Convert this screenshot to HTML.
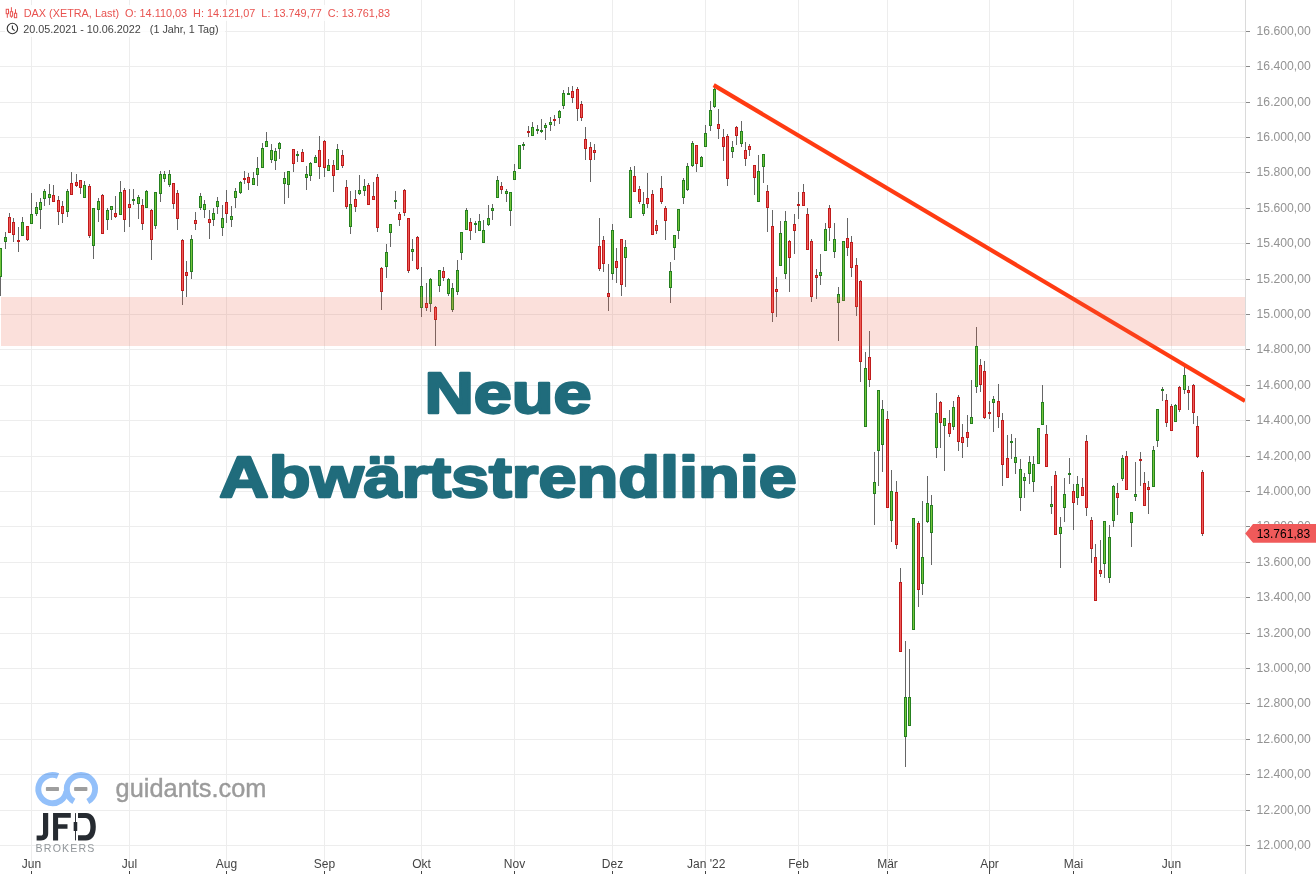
<!DOCTYPE html>
<html lang="de"><head><meta charset="utf-8"><title>DAX Chart</title>
<style>html,body{margin:0;padding:0;background:#fff;width:1316px;height:874px;overflow:hidden}svg{display:block}</style>
</head><body>
<svg id="chart" style="will-change:transform" width="1316" height="874" viewBox="0 0 1316 874" shape-rendering="crispEdges"><rect width="1316" height="874" fill="#fff"/><g id="grid"><rect x="0" y="31" width="1245" height="1" fill="#ededed"/><rect x="0" y="66" width="1245" height="1" fill="#ededed"/><rect x="0" y="102" width="1245" height="1" fill="#ededed"/><rect x="0" y="137" width="1245" height="1" fill="#ededed"/><rect x="0" y="172" width="1245" height="1" fill="#ededed"/><rect x="0" y="208" width="1245" height="1" fill="#ededed"/><rect x="0" y="243" width="1245" height="1" fill="#ededed"/><rect x="0" y="279" width="1245" height="1" fill="#ededed"/><rect x="0" y="314" width="1245" height="1" fill="#ededed"/><rect x="0" y="349" width="1245" height="1" fill="#ededed"/><rect x="0" y="385" width="1245" height="1" fill="#ededed"/><rect x="0" y="420" width="1245" height="1" fill="#ededed"/><rect x="0" y="456" width="1245" height="1" fill="#ededed"/><rect x="0" y="491" width="1245" height="1" fill="#ededed"/><rect x="0" y="526" width="1245" height="1" fill="#ededed"/><rect x="0" y="562" width="1245" height="1" fill="#ededed"/><rect x="0" y="597" width="1245" height="1" fill="#ededed"/><rect x="0" y="633" width="1245" height="1" fill="#ededed"/><rect x="0" y="668" width="1245" height="1" fill="#ededed"/><rect x="0" y="703" width="1245" height="1" fill="#ededed"/><rect x="0" y="739" width="1245" height="1" fill="#ededed"/><rect x="0" y="774" width="1245" height="1" fill="#ededed"/><rect x="0" y="810" width="1245" height="1" fill="#ededed"/><rect x="0" y="845" width="1245" height="1" fill="#ededed"/><rect x="31" y="0" width="1" height="870" fill="#ededed"/><rect x="129" y="0" width="1" height="870" fill="#ededed"/><rect x="226" y="0" width="1" height="870" fill="#ededed"/><rect x="324" y="0" width="1" height="870" fill="#ededed"/><rect x="421" y="0" width="1" height="870" fill="#ededed"/><rect x="514" y="0" width="1" height="870" fill="#ededed"/><rect x="612" y="0" width="1" height="870" fill="#ededed"/><rect x="705" y="0" width="1" height="870" fill="#ededed"/><rect x="798" y="0" width="1" height="870" fill="#ededed"/><rect x="887" y="0" width="1" height="870" fill="#ededed"/><rect x="989" y="0" width="1" height="870" fill="#ededed"/><rect x="1073" y="0" width="1" height="870" fill="#ededed"/><rect x="1171" y="0" width="1" height="870" fill="#ededed"/></g><g id="logo" shape-rendering="geometricPrecision" style="mix-blend-mode:multiply">
<path d="M66.46 791.07 A14.15 14.15 0 1 1 57.98 776.07" fill="none" stroke="#93c0fa" stroke-width="5.9"/>
<path d="M73.88 801.35 A14.15 14.15 0 1 1 87.81 801.48" fill="none" stroke="#93c0fa" stroke-width="5.9"/>
<rect x="45.9" y="786.9" width="13.1" height="4.1" rx="0.8" fill="#9e9e9e"/>
<rect x="74.1" y="786.9" width="13.3" height="4.1" rx="0.8" fill="#9e9e9e"/>
<text x="115.6" y="796.6" font-family="Liberation Sans, Arial, sans-serif" font-size="25.3" fill="#9b9b9b" stroke="#9b9b9b" stroke-width="0.4" textLength="150.8" lengthAdjust="spacingAndGlyphs">guidants.com</text>
</g><g id="jfd" shape-rendering="geometricPrecision" fill="#262b31">
<path d="M43 813.1 H48.2 V833.3 C48.2 837.9 45.4 840.4 41 840.4 H36.6 V835.5 H40.8 C42.4 835.5 43 834.8 43 833.2 Z"/>
<path d="M53.05 813.1 H70.8 V817.7 H58.1 V824.2 H67.5 V828.8 H58.1 V840.4 H53.05 Z"/>
<rect x="75" y="813.1" width="0.95" height="27.3"/>
<rect x="73.65" y="822.1" width="3.6" height="9" rx="0.5"/>
<path d="M78 813.1 H86 C92.5 813.1 95.8 818.6 95.8 826.75 C95.8 834.9 92.5 840.4 86 840.4 H78 V835.2 H85.5 C88.8 835.2 90.4 831.8 90.4 826.75 C90.4 821.7 88.8 817.9 85.5 817.9 H78 Z"/>
</g>
<text x="35.6" y="852.4" font-family="Liberation Sans, Arial, sans-serif" font-size="10.6" fill="#92979b" textLength="58.8" lengthAdjust="spacing">BROKERS</text><g id="candles"><rect x="0" y="248" width="1" height="48" fill="#666"/><rect x="-1" y="248" width="3" height="29" fill="#258020"/><rect x="0" y="249" width="1" height="27" fill="#72c63a"/><rect x="5" y="232" width="1" height="17" fill="#666"/><rect x="4" y="237" width="3" height="5" fill="#258020"/><rect x="5" y="238" width="1" height="3" fill="#72c63a"/><rect x="9" y="213" width="1" height="20" fill="#666"/><rect x="8" y="217" width="3" height="16" fill="#c01b1b"/><rect x="9" y="218" width="1" height="14" fill="#f05a5a"/><rect x="13" y="218" width="1" height="24" fill="#666"/><rect x="12" y="222" width="3" height="13" fill="#c01b1b"/><rect x="13" y="223" width="1" height="11" fill="#f05a5a"/><rect x="18" y="227" width="1" height="25" fill="#666"/><rect x="17" y="240" width="3" height="2" fill="#c01b1b"/><rect x="22" y="217" width="1" height="19" fill="#666"/><rect x="21" y="222" width="3" height="14" fill="#258020"/><rect x="22" y="223" width="1" height="12" fill="#72c63a"/><rect x="27" y="226" width="1" height="15" fill="#666"/><rect x="26" y="226" width="3" height="14" fill="#c01b1b"/><rect x="27" y="227" width="1" height="12" fill="#f05a5a"/><rect x="31" y="193" width="1" height="31" fill="#666"/><rect x="30" y="214" width="3" height="10" fill="#258020"/><rect x="31" y="215" width="1" height="8" fill="#72c63a"/><rect x="36" y="202" width="1" height="14" fill="#666"/><rect x="35" y="207" width="3" height="7" fill="#258020"/><rect x="36" y="208" width="1" height="5" fill="#72c63a"/><rect x="40" y="198" width="1" height="31" fill="#666"/><rect x="39" y="202" width="3" height="8" fill="#258020"/><rect x="40" y="203" width="1" height="6" fill="#72c63a"/><rect x="44" y="189" width="1" height="17" fill="#666"/><rect x="43" y="191" width="3" height="8" fill="#258020"/><rect x="44" y="192" width="1" height="6" fill="#72c63a"/><rect x="49" y="184" width="1" height="21" fill="#666"/><rect x="48" y="194" width="3" height="4" fill="#258020"/><rect x="49" y="195" width="1" height="2" fill="#72c63a"/><rect x="53" y="185" width="1" height="17" fill="#666"/><rect x="52" y="195" width="3" height="7" fill="#c01b1b"/><rect x="53" y="196" width="1" height="5" fill="#f05a5a"/><rect x="58" y="196" width="1" height="29" fill="#666"/><rect x="57" y="200" width="3" height="12" fill="#c01b1b"/><rect x="58" y="201" width="1" height="10" fill="#f05a5a"/><rect x="62" y="201" width="1" height="22" fill="#666"/><rect x="61" y="206" width="3" height="8" fill="#c01b1b"/><rect x="62" y="207" width="1" height="6" fill="#f05a5a"/><rect x="67" y="189" width="1" height="28" fill="#666"/><rect x="66" y="191" width="3" height="21" fill="#258020"/><rect x="67" y="192" width="1" height="19" fill="#72c63a"/><rect x="71" y="172" width="1" height="23" fill="#666"/><rect x="70" y="183" width="3" height="12" fill="#c01b1b"/><rect x="71" y="184" width="1" height="10" fill="#f05a5a"/><rect x="76" y="174" width="1" height="13" fill="#666"/><rect x="75" y="182" width="3" height="4" fill="#c01b1b"/><rect x="76" y="183" width="1" height="2" fill="#f05a5a"/><rect x="80" y="180" width="1" height="14" fill="#666"/><rect x="79" y="180" width="3" height="8" fill="#c01b1b"/><rect x="80" y="181" width="1" height="6" fill="#f05a5a"/><rect x="84" y="181" width="1" height="17" fill="#666"/><rect x="83" y="185" width="3" height="13" fill="#258020"/><rect x="84" y="186" width="1" height="11" fill="#72c63a"/><rect x="89" y="184" width="1" height="54" fill="#666"/><rect x="88" y="186" width="3" height="50" fill="#c01b1b"/><rect x="89" y="187" width="1" height="48" fill="#f05a5a"/><rect x="93" y="208" width="1" height="51" fill="#666"/><rect x="92" y="208" width="3" height="38" fill="#258020"/><rect x="93" y="209" width="1" height="36" fill="#72c63a"/><rect x="98" y="198" width="1" height="24" fill="#666"/><rect x="97" y="201" width="3" height="9" fill="#258020"/><rect x="98" y="202" width="1" height="7" fill="#72c63a"/><rect x="102" y="194" width="1" height="40" fill="#666"/><rect x="101" y="195" width="3" height="39" fill="#c01b1b"/><rect x="102" y="196" width="1" height="37" fill="#f05a5a"/><rect x="107" y="208" width="1" height="22" fill="#666"/><rect x="106" y="210" width="3" height="10" fill="#258020"/><rect x="107" y="211" width="1" height="8" fill="#72c63a"/><rect x="111" y="206" width="1" height="14" fill="#666"/><rect x="110" y="206" width="3" height="4" fill="#258020"/><rect x="111" y="207" width="1" height="2" fill="#72c63a"/><rect x="115" y="196" width="1" height="22" fill="#666"/><rect x="114" y="213" width="3" height="4" fill="#c01b1b"/><rect x="115" y="214" width="1" height="2" fill="#f05a5a"/><rect x="120" y="181" width="1" height="34" fill="#666"/><rect x="119" y="192" width="3" height="23" fill="#258020"/><rect x="120" y="193" width="1" height="21" fill="#72c63a"/><rect x="124" y="188" width="1" height="44" fill="#666"/><rect x="123" y="190" width="3" height="30" fill="#c01b1b"/><rect x="124" y="191" width="1" height="28" fill="#f05a5a"/><rect x="129" y="189" width="1" height="38" fill="#666"/><rect x="128" y="204" width="3" height="4" fill="#c01b1b"/><rect x="129" y="205" width="1" height="2" fill="#f05a5a"/><rect x="133" y="189" width="1" height="16" fill="#666"/><rect x="132" y="199" width="3" height="2" fill="#258020"/><rect x="138" y="195" width="1" height="24" fill="#666"/><rect x="137" y="197" width="3" height="7" fill="#258020"/><rect x="138" y="198" width="1" height="5" fill="#72c63a"/><rect x="142" y="199" width="1" height="31" fill="#666"/><rect x="141" y="205" width="3" height="19" fill="#c01b1b"/><rect x="142" y="206" width="1" height="17" fill="#f05a5a"/><rect x="146" y="190" width="1" height="18" fill="#666"/><rect x="145" y="191" width="3" height="17" fill="#258020"/><rect x="146" y="192" width="1" height="15" fill="#72c63a"/><rect x="151" y="209" width="1" height="51" fill="#666"/><rect x="150" y="210" width="3" height="30" fill="#c01b1b"/><rect x="151" y="211" width="1" height="28" fill="#f05a5a"/><rect x="155" y="192" width="1" height="37" fill="#666"/><rect x="154" y="192" width="3" height="34" fill="#258020"/><rect x="155" y="193" width="1" height="32" fill="#72c63a"/><rect x="160" y="171" width="1" height="31" fill="#666"/><rect x="159" y="174" width="3" height="20" fill="#258020"/><rect x="160" y="175" width="1" height="18" fill="#72c63a"/><rect x="164" y="171" width="1" height="11" fill="#666"/><rect x="163" y="174" width="3" height="5" fill="#258020"/><rect x="164" y="175" width="1" height="3" fill="#72c63a"/><rect x="169" y="170" width="1" height="17" fill="#666"/><rect x="168" y="174" width="3" height="11" fill="#258020"/><rect x="169" y="175" width="1" height="9" fill="#72c63a"/><rect x="173" y="183" width="1" height="26" fill="#666"/><rect x="172" y="183" width="3" height="21" fill="#c01b1b"/><rect x="173" y="184" width="1" height="19" fill="#f05a5a"/><rect x="177" y="190" width="1" height="40" fill="#666"/><rect x="176" y="193" width="3" height="26" fill="#c01b1b"/><rect x="177" y="194" width="1" height="24" fill="#f05a5a"/><rect x="182" y="239" width="1" height="66" fill="#666"/><rect x="181" y="240" width="3" height="51" fill="#c01b1b"/><rect x="182" y="241" width="1" height="49" fill="#f05a5a"/><rect x="186" y="261" width="1" height="36" fill="#666"/><rect x="185" y="272" width="3" height="4" fill="#c01b1b"/><rect x="186" y="273" width="1" height="2" fill="#f05a5a"/><rect x="191" y="235" width="1" height="44" fill="#666"/><rect x="190" y="239" width="3" height="33" fill="#258020"/><rect x="191" y="240" width="1" height="31" fill="#72c63a"/><rect x="195" y="212" width="1" height="18" fill="#666"/><rect x="194" y="220" width="3" height="4" fill="#c01b1b"/><rect x="195" y="221" width="1" height="2" fill="#f05a5a"/><rect x="200" y="193" width="1" height="17" fill="#666"/><rect x="199" y="196" width="3" height="12" fill="#258020"/><rect x="200" y="197" width="1" height="10" fill="#72c63a"/><rect x="204" y="200" width="1" height="18" fill="#666"/><rect x="203" y="204" width="3" height="6" fill="#258020"/><rect x="204" y="205" width="1" height="4" fill="#72c63a"/><rect x="209" y="210" width="1" height="29" fill="#666"/><rect x="208" y="219" width="3" height="4" fill="#c01b1b"/><rect x="209" y="220" width="1" height="2" fill="#f05a5a"/><rect x="213" y="208" width="1" height="18" fill="#666"/><rect x="212" y="213" width="3" height="7" fill="#258020"/><rect x="213" y="214" width="1" height="5" fill="#72c63a"/><rect x="217" y="197" width="1" height="17" fill="#666"/><rect x="216" y="201" width="3" height="6" fill="#258020"/><rect x="217" y="202" width="1" height="4" fill="#72c63a"/><rect x="222" y="205" width="1" height="31" fill="#666"/><rect x="221" y="218" width="3" height="10" fill="#258020"/><rect x="222" y="219" width="1" height="8" fill="#72c63a"/><rect x="226" y="190" width="1" height="33" fill="#666"/><rect x="225" y="202" width="3" height="12" fill="#c01b1b"/><rect x="226" y="203" width="1" height="10" fill="#f05a5a"/><rect x="231" y="206" width="1" height="21" fill="#666"/><rect x="230" y="216" width="3" height="4" fill="#258020"/><rect x="231" y="217" width="1" height="2" fill="#72c63a"/><rect x="235" y="188" width="1" height="20" fill="#666"/><rect x="234" y="191" width="3" height="7" fill="#258020"/><rect x="235" y="192" width="1" height="5" fill="#72c63a"/><rect x="240" y="181" width="1" height="13" fill="#666"/><rect x="239" y="182" width="3" height="11" fill="#258020"/><rect x="240" y="183" width="1" height="9" fill="#72c63a"/><rect x="244" y="171" width="1" height="13" fill="#666"/><rect x="243" y="178" width="3" height="2" fill="#c01b1b"/><rect x="248" y="173" width="1" height="17" fill="#666"/><rect x="247" y="177" width="3" height="6" fill="#c01b1b"/><rect x="248" y="178" width="1" height="4" fill="#f05a5a"/><rect x="253" y="172" width="1" height="13" fill="#666"/><rect x="252" y="178" width="3" height="7" fill="#258020"/><rect x="253" y="179" width="1" height="5" fill="#72c63a"/><rect x="257" y="157" width="1" height="29" fill="#666"/><rect x="256" y="168" width="3" height="7" fill="#258020"/><rect x="257" y="169" width="1" height="5" fill="#72c63a"/><rect x="262" y="143" width="1" height="25" fill="#666"/><rect x="261" y="148" width="3" height="20" fill="#258020"/><rect x="262" y="149" width="1" height="18" fill="#72c63a"/><rect x="266" y="132" width="1" height="15" fill="#666"/><rect x="265" y="141" width="3" height="6" fill="#258020"/><rect x="266" y="142" width="1" height="4" fill="#72c63a"/><rect x="271" y="144" width="1" height="19" fill="#666"/><rect x="270" y="150" width="3" height="10" fill="#258020"/><rect x="271" y="151" width="1" height="8" fill="#72c63a"/><rect x="275" y="148" width="1" height="22" fill="#666"/><rect x="274" y="151" width="3" height="10" fill="#258020"/><rect x="275" y="152" width="1" height="8" fill="#72c63a"/><rect x="279" y="142" width="1" height="17" fill="#666"/><rect x="278" y="143" width="3" height="6" fill="#258020"/><rect x="279" y="144" width="1" height="4" fill="#72c63a"/><rect x="284" y="172" width="1" height="32" fill="#666"/><rect x="283" y="178" width="3" height="6" fill="#258020"/><rect x="284" y="179" width="1" height="4" fill="#72c63a"/><rect x="288" y="171" width="1" height="27" fill="#666"/><rect x="287" y="171" width="3" height="14" fill="#258020"/><rect x="288" y="172" width="1" height="12" fill="#72c63a"/><rect x="293" y="149" width="1" height="23" fill="#666"/><rect x="292" y="149" width="3" height="15" fill="#c01b1b"/><rect x="293" y="150" width="1" height="13" fill="#f05a5a"/><rect x="297" y="151" width="1" height="11" fill="#666"/><rect x="296" y="154" width="3" height="2" fill="#258020"/><rect x="302" y="149" width="1" height="13" fill="#666"/><rect x="301" y="152" width="3" height="10" fill="#c01b1b"/><rect x="302" y="153" width="1" height="8" fill="#f05a5a"/><rect x="306" y="166" width="1" height="24" fill="#666"/><rect x="305" y="174" width="3" height="4" fill="#258020"/><rect x="306" y="175" width="1" height="2" fill="#72c63a"/><rect x="310" y="162" width="1" height="19" fill="#666"/><rect x="309" y="163" width="3" height="13" fill="#258020"/><rect x="310" y="164" width="1" height="11" fill="#72c63a"/><rect x="315" y="155" width="1" height="8" fill="#666"/><rect x="314" y="157" width="3" height="6" fill="#258020"/><rect x="315" y="158" width="1" height="4" fill="#72c63a"/><rect x="319" y="136" width="1" height="43" fill="#666"/><rect x="318" y="150" width="3" height="17" fill="#c01b1b"/><rect x="319" y="151" width="1" height="15" fill="#f05a5a"/><rect x="324" y="140" width="1" height="37" fill="#666"/><rect x="323" y="141" width="3" height="27" fill="#c01b1b"/><rect x="324" y="142" width="1" height="25" fill="#f05a5a"/><rect x="328" y="159" width="1" height="12" fill="#666"/><rect x="327" y="165" width="3" height="6" fill="#258020"/><rect x="328" y="166" width="1" height="4" fill="#72c63a"/><rect x="333" y="160" width="1" height="32" fill="#666"/><rect x="332" y="165" width="3" height="11" fill="#c01b1b"/><rect x="333" y="166" width="1" height="9" fill="#f05a5a"/><rect x="337" y="144" width="1" height="26" fill="#666"/><rect x="336" y="149" width="3" height="21" fill="#258020"/><rect x="337" y="150" width="1" height="19" fill="#72c63a"/><rect x="342" y="150" width="1" height="18" fill="#666"/><rect x="341" y="155" width="3" height="11" fill="#c01b1b"/><rect x="342" y="156" width="1" height="9" fill="#f05a5a"/><rect x="346" y="180" width="1" height="29" fill="#666"/><rect x="345" y="187" width="3" height="20" fill="#c01b1b"/><rect x="346" y="188" width="1" height="18" fill="#f05a5a"/><rect x="350" y="191" width="1" height="43" fill="#666"/><rect x="349" y="204" width="3" height="23" fill="#258020"/><rect x="350" y="205" width="1" height="21" fill="#72c63a"/><rect x="355" y="190" width="1" height="22" fill="#666"/><rect x="354" y="199" width="3" height="8" fill="#c01b1b"/><rect x="355" y="200" width="1" height="6" fill="#f05a5a"/><rect x="359" y="175" width="1" height="20" fill="#666"/><rect x="358" y="190" width="3" height="4" fill="#258020"/><rect x="359" y="191" width="1" height="2" fill="#72c63a"/><rect x="364" y="179" width="1" height="17" fill="#666"/><rect x="363" y="186" width="3" height="5" fill="#258020"/><rect x="364" y="187" width="1" height="3" fill="#72c63a"/><rect x="368" y="183" width="1" height="22" fill="#666"/><rect x="367" y="185" width="3" height="20" fill="#c01b1b"/><rect x="368" y="186" width="1" height="18" fill="#f05a5a"/><rect x="373" y="182" width="1" height="18" fill="#666"/><rect x="372" y="196" width="3" height="4" fill="#c01b1b"/><rect x="373" y="197" width="1" height="2" fill="#f05a5a"/><rect x="377" y="174" width="1" height="58" fill="#666"/><rect x="376" y="177" width="3" height="51" fill="#c01b1b"/><rect x="377" y="178" width="1" height="49" fill="#f05a5a"/><rect x="381" y="267" width="1" height="43" fill="#666"/><rect x="380" y="268" width="3" height="24" fill="#c01b1b"/><rect x="381" y="269" width="1" height="22" fill="#f05a5a"/><rect x="386" y="244" width="1" height="34" fill="#666"/><rect x="385" y="252" width="3" height="15" fill="#258020"/><rect x="386" y="253" width="1" height="13" fill="#72c63a"/><rect x="390" y="224" width="1" height="23" fill="#666"/><rect x="389" y="224" width="3" height="9" fill="#258020"/><rect x="390" y="225" width="1" height="7" fill="#72c63a"/><rect x="395" y="191" width="1" height="18" fill="#666"/><rect x="394" y="200" width="3" height="2" fill="#258020"/><rect x="399" y="212" width="1" height="14" fill="#666"/><rect x="398" y="214" width="3" height="6" fill="#c01b1b"/><rect x="399" y="215" width="1" height="4" fill="#f05a5a"/><rect x="404" y="189" width="1" height="27" fill="#666"/><rect x="403" y="190" width="3" height="23" fill="#c01b1b"/><rect x="404" y="191" width="1" height="21" fill="#f05a5a"/><rect x="408" y="218" width="1" height="55" fill="#666"/><rect x="407" y="218" width="3" height="53" fill="#c01b1b"/><rect x="408" y="219" width="1" height="51" fill="#f05a5a"/><rect x="412" y="239" width="1" height="22" fill="#666"/><rect x="411" y="249" width="3" height="3" fill="#258020"/><rect x="412" y="250" width="1" height="1" fill="#72c63a"/><rect x="417" y="236" width="1" height="34" fill="#666"/><rect x="416" y="237" width="3" height="32" fill="#c01b1b"/><rect x="417" y="238" width="1" height="30" fill="#f05a5a"/><rect x="421" y="267" width="1" height="50" fill="#666"/><rect x="420" y="286" width="3" height="22" fill="#258020"/><rect x="421" y="287" width="1" height="20" fill="#72c63a"/><rect x="426" y="283" width="1" height="28" fill="#666"/><rect x="425" y="303" width="3" height="5" fill="#c01b1b"/><rect x="426" y="304" width="1" height="3" fill="#f05a5a"/><rect x="430" y="278" width="1" height="34" fill="#666"/><rect x="429" y="279" width="3" height="25" fill="#258020"/><rect x="430" y="280" width="1" height="23" fill="#72c63a"/><rect x="435" y="306" width="1" height="40" fill="#666"/><rect x="434" y="307" width="3" height="13" fill="#c01b1b"/><rect x="435" y="308" width="1" height="11" fill="#f05a5a"/><rect x="439" y="270" width="1" height="22" fill="#666"/><rect x="438" y="270" width="3" height="16" fill="#258020"/><rect x="439" y="271" width="1" height="14" fill="#72c63a"/><rect x="443" y="267" width="1" height="14" fill="#666"/><rect x="442" y="271" width="3" height="7" fill="#c01b1b"/><rect x="443" y="272" width="1" height="5" fill="#f05a5a"/><rect x="448" y="278" width="1" height="18" fill="#666"/><rect x="447" y="279" width="3" height="15" fill="#258020"/><rect x="448" y="280" width="1" height="13" fill="#72c63a"/><rect x="452" y="283" width="1" height="29" fill="#666"/><rect x="451" y="288" width="3" height="22" fill="#258020"/><rect x="452" y="289" width="1" height="20" fill="#72c63a"/><rect x="457" y="260" width="1" height="35" fill="#666"/><rect x="456" y="270" width="3" height="22" fill="#258020"/><rect x="457" y="271" width="1" height="20" fill="#72c63a"/><rect x="461" y="232" width="1" height="28" fill="#666"/><rect x="460" y="232" width="3" height="21" fill="#258020"/><rect x="461" y="233" width="1" height="19" fill="#72c63a"/><rect x="466" y="208" width="1" height="22" fill="#666"/><rect x="465" y="210" width="3" height="20" fill="#258020"/><rect x="466" y="211" width="1" height="18" fill="#72c63a"/><rect x="470" y="218" width="1" height="22" fill="#666"/><rect x="469" y="222" width="3" height="9" fill="#c01b1b"/><rect x="470" y="223" width="1" height="7" fill="#f05a5a"/><rect x="475" y="221" width="1" height="12" fill="#666"/><rect x="474" y="223" width="3" height="2" fill="#258020"/><rect x="479" y="214" width="1" height="17" fill="#666"/><rect x="478" y="221" width="3" height="10" fill="#258020"/><rect x="479" y="222" width="1" height="8" fill="#72c63a"/><rect x="483" y="220" width="1" height="23" fill="#666"/><rect x="482" y="230" width="3" height="13" fill="#258020"/><rect x="483" y="231" width="1" height="11" fill="#72c63a"/><rect x="488" y="205" width="1" height="21" fill="#666"/><rect x="487" y="218" width="3" height="7" fill="#258020"/><rect x="488" y="219" width="1" height="5" fill="#72c63a"/><rect x="492" y="204" width="1" height="16" fill="#666"/><rect x="491" y="208" width="3" height="3" fill="#258020"/><rect x="492" y="209" width="1" height="1" fill="#72c63a"/><rect x="497" y="176" width="1" height="22" fill="#666"/><rect x="496" y="180" width="3" height="18" fill="#258020"/><rect x="497" y="181" width="1" height="16" fill="#72c63a"/><rect x="501" y="182" width="1" height="12" fill="#666"/><rect x="500" y="186" width="3" height="4" fill="#c01b1b"/><rect x="501" y="187" width="1" height="2" fill="#f05a5a"/><rect x="506" y="189" width="1" height="13" fill="#666"/><rect x="505" y="191" width="3" height="3" fill="#258020"/><rect x="506" y="192" width="1" height="1" fill="#72c63a"/><rect x="510" y="192" width="1" height="34" fill="#666"/><rect x="509" y="192" width="3" height="19" fill="#258020"/><rect x="510" y="193" width="1" height="17" fill="#72c63a"/><rect x="514" y="164" width="1" height="16" fill="#666"/><rect x="513" y="171" width="3" height="9" fill="#258020"/><rect x="514" y="172" width="1" height="7" fill="#72c63a"/><rect x="519" y="145" width="1" height="24" fill="#666"/><rect x="518" y="145" width="3" height="24" fill="#258020"/><rect x="519" y="146" width="1" height="22" fill="#72c63a"/><rect x="523" y="142" width="1" height="8" fill="#666"/><rect x="522" y="144" width="3" height="2" fill="#258020"/><rect x="528" y="126" width="1" height="11" fill="#666"/><rect x="527" y="131" width="3" height="2" fill="#c01b1b"/><rect x="532" y="122" width="1" height="14" fill="#666"/><rect x="531" y="127" width="3" height="9" fill="#258020"/><rect x="532" y="128" width="1" height="7" fill="#72c63a"/><rect x="537" y="125" width="1" height="9" fill="#666"/><rect x="536" y="129" width="3" height="2" fill="#258020"/><rect x="541" y="119" width="1" height="14" fill="#666"/><rect x="540" y="130" width="3" height="2" fill="#258020"/><rect x="545" y="123" width="1" height="17" fill="#666"/><rect x="544" y="125" width="3" height="3" fill="#258020"/><rect x="545" y="126" width="1" height="1" fill="#72c63a"/><rect x="550" y="117" width="1" height="14" fill="#666"/><rect x="549" y="122" width="3" height="3" fill="#258020"/><rect x="550" y="123" width="1" height="1" fill="#72c63a"/><rect x="554" y="115" width="1" height="11" fill="#666"/><rect x="553" y="119" width="3" height="2" fill="#c01b1b"/><rect x="559" y="110" width="1" height="14" fill="#666"/><rect x="558" y="111" width="3" height="7" fill="#258020"/><rect x="559" y="112" width="1" height="5" fill="#72c63a"/><rect x="563" y="90" width="1" height="19" fill="#666"/><rect x="562" y="93" width="3" height="13" fill="#258020"/><rect x="563" y="94" width="1" height="11" fill="#72c63a"/><rect x="568" y="87" width="1" height="7" fill="#666"/><rect x="567" y="93" width="3" height="2" fill="#258020"/><rect x="572" y="86" width="1" height="17" fill="#666"/><rect x="571" y="91" width="3" height="7" fill="#c01b1b"/><rect x="572" y="92" width="1" height="5" fill="#f05a5a"/><rect x="577" y="87" width="1" height="34" fill="#666"/><rect x="576" y="89" width="3" height="20" fill="#c01b1b"/><rect x="577" y="90" width="1" height="18" fill="#f05a5a"/><rect x="581" y="101" width="1" height="20" fill="#666"/><rect x="580" y="104" width="3" height="14" fill="#c01b1b"/><rect x="581" y="105" width="1" height="12" fill="#f05a5a"/><rect x="585" y="127" width="1" height="33" fill="#666"/><rect x="584" y="139" width="3" height="10" fill="#c01b1b"/><rect x="585" y="140" width="1" height="8" fill="#f05a5a"/><rect x="590" y="142" width="1" height="40" fill="#666"/><rect x="589" y="147" width="3" height="13" fill="#c01b1b"/><rect x="590" y="148" width="1" height="11" fill="#f05a5a"/><rect x="594" y="144" width="1" height="16" fill="#666"/><rect x="593" y="150" width="3" height="3" fill="#c01b1b"/><rect x="594" y="151" width="1" height="1" fill="#f05a5a"/><rect x="599" y="218" width="1" height="53" fill="#666"/><rect x="598" y="246" width="3" height="23" fill="#c01b1b"/><rect x="599" y="247" width="1" height="21" fill="#f05a5a"/><rect x="603" y="236" width="1" height="36" fill="#666"/><rect x="602" y="240" width="3" height="24" fill="#c01b1b"/><rect x="603" y="241" width="1" height="22" fill="#f05a5a"/><rect x="608" y="264" width="1" height="47" fill="#666"/><rect x="607" y="293" width="3" height="4" fill="#c01b1b"/><rect x="608" y="294" width="1" height="2" fill="#f05a5a"/><rect x="612" y="224" width="1" height="56" fill="#666"/><rect x="611" y="230" width="3" height="44" fill="#258020"/><rect x="612" y="231" width="1" height="42" fill="#72c63a"/><rect x="616" y="248" width="1" height="35" fill="#666"/><rect x="615" y="261" width="3" height="7" fill="#c01b1b"/><rect x="616" y="262" width="1" height="5" fill="#f05a5a"/><rect x="621" y="239" width="1" height="57" fill="#666"/><rect x="620" y="239" width="3" height="46" fill="#c01b1b"/><rect x="621" y="240" width="1" height="44" fill="#f05a5a"/><rect x="625" y="240" width="1" height="47" fill="#666"/><rect x="624" y="247" width="3" height="11" fill="#258020"/><rect x="625" y="248" width="1" height="9" fill="#72c63a"/><rect x="630" y="167" width="1" height="51" fill="#666"/><rect x="629" y="170" width="3" height="48" fill="#258020"/><rect x="630" y="171" width="1" height="46" fill="#72c63a"/><rect x="634" y="166" width="1" height="26" fill="#666"/><rect x="633" y="176" width="3" height="16" fill="#c01b1b"/><rect x="634" y="177" width="1" height="14" fill="#f05a5a"/><rect x="639" y="186" width="1" height="18" fill="#666"/><rect x="638" y="189" width="3" height="13" fill="#c01b1b"/><rect x="639" y="190" width="1" height="11" fill="#f05a5a"/><rect x="643" y="192" width="1" height="24" fill="#666"/><rect x="642" y="204" width="3" height="10" fill="#258020"/><rect x="643" y="205" width="1" height="8" fill="#72c63a"/><rect x="647" y="173" width="1" height="35" fill="#666"/><rect x="646" y="198" width="3" height="6" fill="#c01b1b"/><rect x="647" y="199" width="1" height="4" fill="#f05a5a"/><rect x="652" y="190" width="1" height="45" fill="#666"/><rect x="651" y="194" width="3" height="41" fill="#c01b1b"/><rect x="652" y="195" width="1" height="39" fill="#f05a5a"/><rect x="656" y="220" width="1" height="14" fill="#666"/><rect x="655" y="225" width="3" height="6" fill="#c01b1b"/><rect x="656" y="226" width="1" height="4" fill="#f05a5a"/><rect x="661" y="176" width="1" height="28" fill="#666"/><rect x="660" y="188" width="3" height="14" fill="#c01b1b"/><rect x="661" y="189" width="1" height="12" fill="#f05a5a"/><rect x="665" y="206" width="1" height="34" fill="#666"/><rect x="664" y="208" width="3" height="13" fill="#c01b1b"/><rect x="665" y="209" width="1" height="11" fill="#f05a5a"/><rect x="670" y="262" width="1" height="41" fill="#666"/><rect x="669" y="271" width="3" height="17" fill="#258020"/><rect x="670" y="272" width="1" height="15" fill="#72c63a"/><rect x="674" y="235" width="1" height="25" fill="#666"/><rect x="673" y="235" width="3" height="13" fill="#258020"/><rect x="674" y="236" width="1" height="11" fill="#72c63a"/><rect x="678" y="209" width="1" height="30" fill="#666"/><rect x="677" y="209" width="3" height="22" fill="#258020"/><rect x="678" y="210" width="1" height="20" fill="#72c63a"/><rect x="683" y="178" width="1" height="26" fill="#666"/><rect x="682" y="180" width="3" height="18" fill="#258020"/><rect x="683" y="181" width="1" height="16" fill="#72c63a"/><rect x="687" y="163" width="1" height="28" fill="#666"/><rect x="686" y="166" width="3" height="24" fill="#258020"/><rect x="687" y="167" width="1" height="22" fill="#72c63a"/><rect x="692" y="141" width="1" height="26" fill="#666"/><rect x="691" y="143" width="3" height="23" fill="#258020"/><rect x="692" y="144" width="1" height="21" fill="#72c63a"/><rect x="696" y="145" width="1" height="27" fill="#666"/><rect x="695" y="145" width="3" height="19" fill="#c01b1b"/><rect x="696" y="146" width="1" height="17" fill="#f05a5a"/><rect x="701" y="156" width="1" height="11" fill="#666"/><rect x="700" y="157" width="3" height="10" fill="#258020"/><rect x="701" y="158" width="1" height="8" fill="#72c63a"/><rect x="705" y="125" width="1" height="22" fill="#666"/><rect x="704" y="133" width="3" height="14" fill="#258020"/><rect x="705" y="134" width="1" height="12" fill="#72c63a"/><rect x="710" y="101" width="1" height="30" fill="#666"/><rect x="709" y="110" width="3" height="16" fill="#258020"/><rect x="710" y="111" width="1" height="14" fill="#72c63a"/><rect x="714" y="87" width="1" height="21" fill="#666"/><rect x="713" y="89" width="3" height="18" fill="#258020"/><rect x="714" y="90" width="1" height="16" fill="#72c63a"/><rect x="718" y="109" width="1" height="30" fill="#666"/><rect x="717" y="124" width="3" height="5" fill="#c01b1b"/><rect x="718" y="125" width="1" height="3" fill="#f05a5a"/><rect x="723" y="129" width="1" height="32" fill="#666"/><rect x="722" y="137" width="3" height="10" fill="#c01b1b"/><rect x="723" y="138" width="1" height="8" fill="#f05a5a"/><rect x="727" y="134" width="1" height="52" fill="#666"/><rect x="726" y="136" width="3" height="43" fill="#c01b1b"/><rect x="727" y="137" width="1" height="41" fill="#f05a5a"/><rect x="732" y="141" width="1" height="17" fill="#666"/><rect x="731" y="147" width="3" height="5" fill="#258020"/><rect x="732" y="148" width="1" height="3" fill="#72c63a"/><rect x="736" y="126" width="1" height="19" fill="#666"/><rect x="735" y="127" width="3" height="9" fill="#c01b1b"/><rect x="736" y="128" width="1" height="7" fill="#f05a5a"/><rect x="741" y="121" width="1" height="26" fill="#666"/><rect x="740" y="131" width="3" height="13" fill="#258020"/><rect x="741" y="132" width="1" height="11" fill="#72c63a"/><rect x="745" y="142" width="1" height="24" fill="#666"/><rect x="744" y="150" width="3" height="9" fill="#c01b1b"/><rect x="745" y="151" width="1" height="7" fill="#f05a5a"/><rect x="749" y="144" width="1" height="12" fill="#666"/><rect x="748" y="146" width="3" height="4" fill="#c01b1b"/><rect x="749" y="147" width="1" height="2" fill="#f05a5a"/><rect x="754" y="165" width="1" height="30" fill="#666"/><rect x="753" y="165" width="3" height="13" fill="#c01b1b"/><rect x="754" y="166" width="1" height="11" fill="#f05a5a"/><rect x="758" y="155" width="1" height="47" fill="#666"/><rect x="757" y="171" width="3" height="31" fill="#258020"/><rect x="758" y="172" width="1" height="29" fill="#72c63a"/><rect x="763" y="154" width="1" height="29" fill="#666"/><rect x="762" y="154" width="3" height="13" fill="#258020"/><rect x="763" y="155" width="1" height="11" fill="#72c63a"/><rect x="767" y="185" width="1" height="47" fill="#666"/><rect x="766" y="191" width="3" height="17" fill="#c01b1b"/><rect x="767" y="192" width="1" height="15" fill="#f05a5a"/><rect x="772" y="210" width="1" height="112" fill="#666"/><rect x="771" y="226" width="3" height="87" fill="#c01b1b"/><rect x="772" y="227" width="1" height="85" fill="#f05a5a"/><rect x="776" y="277" width="1" height="40" fill="#666"/><rect x="775" y="289" width="3" height="3" fill="#c01b1b"/><rect x="776" y="290" width="1" height="1" fill="#f05a5a"/><rect x="780" y="221" width="1" height="45" fill="#666"/><rect x="779" y="233" width="3" height="33" fill="#258020"/><rect x="780" y="234" width="1" height="31" fill="#72c63a"/><rect x="785" y="211" width="1" height="68" fill="#666"/><rect x="784" y="221" width="3" height="53" fill="#258020"/><rect x="785" y="222" width="1" height="51" fill="#72c63a"/><rect x="789" y="240" width="1" height="52" fill="#666"/><rect x="788" y="241" width="3" height="17" fill="#c01b1b"/><rect x="789" y="242" width="1" height="15" fill="#f05a5a"/><rect x="794" y="214" width="1" height="40" fill="#666"/><rect x="793" y="224" width="3" height="7" fill="#c01b1b"/><rect x="794" y="225" width="1" height="5" fill="#f05a5a"/><rect x="798" y="192" width="1" height="27" fill="#666"/><rect x="797" y="204" width="3" height="2" fill="#c01b1b"/><rect x="803" y="184" width="1" height="22" fill="#666"/><rect x="802" y="192" width="3" height="14" fill="#c01b1b"/><rect x="803" y="193" width="1" height="12" fill="#f05a5a"/><rect x="807" y="208" width="1" height="42" fill="#666"/><rect x="806" y="214" width="3" height="36" fill="#c01b1b"/><rect x="807" y="215" width="1" height="34" fill="#f05a5a"/><rect x="811" y="239" width="1" height="63" fill="#666"/><rect x="810" y="241" width="3" height="56" fill="#c01b1b"/><rect x="811" y="242" width="1" height="54" fill="#f05a5a"/><rect x="816" y="269" width="1" height="30" fill="#666"/><rect x="815" y="275" width="3" height="3" fill="#c01b1b"/><rect x="816" y="276" width="1" height="1" fill="#f05a5a"/><rect x="820" y="254" width="1" height="31" fill="#666"/><rect x="819" y="272" width="3" height="4" fill="#258020"/><rect x="820" y="273" width="1" height="2" fill="#72c63a"/><rect x="825" y="223" width="1" height="28" fill="#666"/><rect x="824" y="229" width="3" height="22" fill="#258020"/><rect x="825" y="230" width="1" height="20" fill="#72c63a"/><rect x="829" y="205" width="1" height="36" fill="#666"/><rect x="828" y="208" width="3" height="20" fill="#c01b1b"/><rect x="829" y="209" width="1" height="18" fill="#f05a5a"/><rect x="834" y="223" width="1" height="35" fill="#666"/><rect x="833" y="239" width="3" height="13" fill="#258020"/><rect x="834" y="240" width="1" height="11" fill="#72c63a"/><rect x="838" y="287" width="1" height="54" fill="#666"/><rect x="837" y="294" width="3" height="9" fill="#258020"/><rect x="838" y="295" width="1" height="7" fill="#72c63a"/><rect x="843" y="241" width="1" height="60" fill="#666"/><rect x="842" y="241" width="3" height="60" fill="#258020"/><rect x="843" y="242" width="1" height="58" fill="#72c63a"/><rect x="847" y="218" width="1" height="38" fill="#666"/><rect x="846" y="238" width="3" height="10" fill="#c01b1b"/><rect x="847" y="239" width="1" height="8" fill="#f05a5a"/><rect x="851" y="236" width="1" height="41" fill="#666"/><rect x="850" y="242" width="3" height="26" fill="#c01b1b"/><rect x="851" y="243" width="1" height="24" fill="#f05a5a"/><rect x="856" y="258" width="1" height="58" fill="#666"/><rect x="855" y="265" width="3" height="42" fill="#c01b1b"/><rect x="856" y="266" width="1" height="40" fill="#f05a5a"/><rect x="860" y="280" width="1" height="102" fill="#666"/><rect x="859" y="281" width="3" height="81" fill="#c01b1b"/><rect x="860" y="282" width="1" height="79" fill="#f05a5a"/><rect x="865" y="352" width="1" height="75" fill="#666"/><rect x="864" y="368" width="3" height="59" fill="#258020"/><rect x="865" y="369" width="1" height="57" fill="#72c63a"/><rect x="869" y="331" width="1" height="56" fill="#666"/><rect x="868" y="357" width="3" height="23" fill="#c01b1b"/><rect x="869" y="358" width="1" height="21" fill="#f05a5a"/><rect x="874" y="452" width="1" height="73" fill="#666"/><rect x="873" y="482" width="3" height="12" fill="#258020"/><rect x="874" y="483" width="1" height="10" fill="#72c63a"/><rect x="878" y="390" width="1" height="96" fill="#666"/><rect x="877" y="390" width="3" height="61" fill="#258020"/><rect x="878" y="391" width="1" height="59" fill="#72c63a"/><rect x="882" y="400" width="1" height="72" fill="#666"/><rect x="881" y="409" width="3" height="36" fill="#258020"/><rect x="882" y="410" width="1" height="34" fill="#72c63a"/><rect x="887" y="411" width="1" height="97" fill="#666"/><rect x="886" y="419" width="3" height="89" fill="#c01b1b"/><rect x="887" y="420" width="1" height="87" fill="#f05a5a"/><rect x="891" y="470" width="1" height="72" fill="#666"/><rect x="890" y="491" width="3" height="30" fill="#258020"/><rect x="891" y="492" width="1" height="28" fill="#72c63a"/><rect x="896" y="481" width="1" height="68" fill="#666"/><rect x="895" y="492" width="3" height="53" fill="#c01b1b"/><rect x="896" y="493" width="1" height="51" fill="#f05a5a"/><rect x="900" y="568" width="1" height="84" fill="#666"/><rect x="899" y="582" width="3" height="70" fill="#c01b1b"/><rect x="900" y="583" width="1" height="68" fill="#f05a5a"/><rect x="905" y="641" width="1" height="126" fill="#666"/><rect x="904" y="697" width="3" height="40" fill="#258020"/><rect x="905" y="698" width="1" height="38" fill="#72c63a"/><rect x="909" y="649" width="1" height="77" fill="#666"/><rect x="908" y="697" width="3" height="29" fill="#258020"/><rect x="909" y="698" width="1" height="27" fill="#72c63a"/><rect x="913" y="518" width="1" height="112" fill="#666"/><rect x="912" y="518" width="3" height="112" fill="#258020"/><rect x="913" y="519" width="1" height="110" fill="#72c63a"/><rect x="918" y="521" width="1" height="86" fill="#666"/><rect x="917" y="523" width="3" height="67" fill="#c01b1b"/><rect x="918" y="524" width="1" height="65" fill="#f05a5a"/><rect x="922" y="501" width="1" height="94" fill="#666"/><rect x="921" y="557" width="3" height="27" fill="#258020"/><rect x="922" y="558" width="1" height="25" fill="#72c63a"/><rect x="927" y="476" width="1" height="47" fill="#666"/><rect x="926" y="503" width="3" height="19" fill="#258020"/><rect x="927" y="504" width="1" height="17" fill="#72c63a"/><rect x="931" y="495" width="1" height="70" fill="#666"/><rect x="930" y="505" width="3" height="28" fill="#258020"/><rect x="931" y="506" width="1" height="26" fill="#72c63a"/><rect x="936" y="393" width="1" height="65" fill="#666"/><rect x="935" y="413" width="3" height="35" fill="#258020"/><rect x="936" y="414" width="1" height="33" fill="#72c63a"/><rect x="940" y="401" width="1" height="47" fill="#666"/><rect x="939" y="402" width="3" height="21" fill="#c01b1b"/><rect x="940" y="403" width="1" height="19" fill="#f05a5a"/><rect x="944" y="418" width="1" height="53" fill="#666"/><rect x="943" y="418" width="3" height="8" fill="#258020"/><rect x="944" y="419" width="1" height="6" fill="#72c63a"/><rect x="949" y="410" width="1" height="27" fill="#666"/><rect x="948" y="423" width="3" height="11" fill="#c01b1b"/><rect x="949" y="424" width="1" height="9" fill="#f05a5a"/><rect x="953" y="401" width="1" height="29" fill="#666"/><rect x="952" y="407" width="3" height="20" fill="#258020"/><rect x="953" y="408" width="1" height="18" fill="#72c63a"/><rect x="958" y="395" width="1" height="56" fill="#666"/><rect x="957" y="397" width="3" height="45" fill="#c01b1b"/><rect x="958" y="398" width="1" height="43" fill="#f05a5a"/><rect x="962" y="424" width="1" height="34" fill="#666"/><rect x="961" y="437" width="3" height="6" fill="#c01b1b"/><rect x="962" y="438" width="1" height="4" fill="#f05a5a"/><rect x="967" y="415" width="1" height="32" fill="#666"/><rect x="966" y="432" width="3" height="6" fill="#c01b1b"/><rect x="967" y="433" width="1" height="4" fill="#f05a5a"/><rect x="971" y="380" width="1" height="44" fill="#666"/><rect x="970" y="417" width="3" height="7" fill="#258020"/><rect x="971" y="418" width="1" height="5" fill="#72c63a"/><rect x="976" y="327" width="1" height="66" fill="#666"/><rect x="975" y="346" width="3" height="41" fill="#258020"/><rect x="976" y="347" width="1" height="39" fill="#72c63a"/><rect x="980" y="359" width="1" height="33" fill="#666"/><rect x="979" y="365" width="3" height="20" fill="#c01b1b"/><rect x="980" y="366" width="1" height="18" fill="#f05a5a"/><rect x="984" y="361" width="1" height="58" fill="#666"/><rect x="983" y="371" width="3" height="47" fill="#c01b1b"/><rect x="984" y="372" width="1" height="45" fill="#f05a5a"/><rect x="989" y="401" width="1" height="18" fill="#666"/><rect x="988" y="412" width="3" height="2" fill="#c01b1b"/><rect x="993" y="396" width="1" height="36" fill="#666"/><rect x="992" y="399" width="3" height="4" fill="#258020"/><rect x="993" y="400" width="1" height="2" fill="#72c63a"/><rect x="998" y="384" width="1" height="44" fill="#666"/><rect x="997" y="401" width="3" height="16" fill="#c01b1b"/><rect x="998" y="402" width="1" height="14" fill="#f05a5a"/><rect x="1002" y="413" width="1" height="73" fill="#666"/><rect x="1001" y="420" width="3" height="45" fill="#c01b1b"/><rect x="1002" y="421" width="1" height="43" fill="#f05a5a"/><rect x="1007" y="435" width="1" height="43" fill="#666"/><rect x="1006" y="458" width="3" height="20" fill="#c01b1b"/><rect x="1007" y="459" width="1" height="18" fill="#f05a5a"/><rect x="1011" y="434" width="1" height="25" fill="#666"/><rect x="1010" y="441" width="3" height="2" fill="#258020"/><rect x="1015" y="438" width="1" height="36" fill="#666"/><rect x="1014" y="457" width="3" height="6" fill="#258020"/><rect x="1015" y="458" width="1" height="4" fill="#72c63a"/><rect x="1020" y="459" width="1" height="52" fill="#666"/><rect x="1019" y="469" width="3" height="29" fill="#258020"/><rect x="1020" y="470" width="1" height="27" fill="#72c63a"/><rect x="1024" y="473" width="1" height="25" fill="#666"/><rect x="1023" y="477" width="3" height="4" fill="#258020"/><rect x="1024" y="478" width="1" height="2" fill="#72c63a"/><rect x="1029" y="456" width="1" height="28" fill="#666"/><rect x="1028" y="462" width="3" height="12" fill="#258020"/><rect x="1029" y="463" width="1" height="10" fill="#72c63a"/><rect x="1033" y="456" width="1" height="36" fill="#666"/><rect x="1032" y="464" width="3" height="18" fill="#258020"/><rect x="1033" y="465" width="1" height="16" fill="#72c63a"/><rect x="1038" y="428" width="1" height="36" fill="#666"/><rect x="1037" y="428" width="3" height="36" fill="#258020"/><rect x="1038" y="429" width="1" height="34" fill="#72c63a"/><rect x="1042" y="385" width="1" height="40" fill="#666"/><rect x="1041" y="402" width="3" height="23" fill="#258020"/><rect x="1042" y="403" width="1" height="21" fill="#72c63a"/><rect x="1046" y="425" width="1" height="42" fill="#666"/><rect x="1045" y="434" width="3" height="33" fill="#c01b1b"/><rect x="1046" y="435" width="1" height="31" fill="#f05a5a"/><rect x="1051" y="486" width="1" height="28" fill="#666"/><rect x="1050" y="504" width="3" height="3" fill="#258020"/><rect x="1051" y="505" width="1" height="1" fill="#72c63a"/><rect x="1055" y="471" width="1" height="64" fill="#666"/><rect x="1054" y="475" width="3" height="60" fill="#c01b1b"/><rect x="1055" y="476" width="1" height="58" fill="#f05a5a"/><rect x="1060" y="517" width="1" height="51" fill="#666"/><rect x="1059" y="527" width="3" height="7" fill="#258020"/><rect x="1060" y="528" width="1" height="5" fill="#72c63a"/><rect x="1064" y="478" width="1" height="44" fill="#666"/><rect x="1063" y="494" width="3" height="14" fill="#258020"/><rect x="1064" y="495" width="1" height="12" fill="#72c63a"/><rect x="1069" y="458" width="1" height="26" fill="#666"/><rect x="1068" y="473" width="3" height="2" fill="#258020"/><rect x="1073" y="484" width="1" height="46" fill="#666"/><rect x="1072" y="491" width="3" height="12" fill="#c01b1b"/><rect x="1073" y="492" width="1" height="10" fill="#f05a5a"/><rect x="1077" y="476" width="1" height="29" fill="#666"/><rect x="1076" y="484" width="3" height="14" fill="#258020"/><rect x="1077" y="485" width="1" height="12" fill="#72c63a"/><rect x="1082" y="478" width="1" height="18" fill="#666"/><rect x="1081" y="487" width="3" height="9" fill="#c01b1b"/><rect x="1082" y="488" width="1" height="7" fill="#f05a5a"/><rect x="1086" y="435" width="1" height="81" fill="#666"/><rect x="1085" y="441" width="3" height="67" fill="#c01b1b"/><rect x="1086" y="442" width="1" height="65" fill="#f05a5a"/><rect x="1091" y="517" width="1" height="46" fill="#666"/><rect x="1090" y="520" width="3" height="29" fill="#c01b1b"/><rect x="1091" y="521" width="1" height="27" fill="#f05a5a"/><rect x="1095" y="544" width="1" height="57" fill="#666"/><rect x="1094" y="557" width="3" height="44" fill="#c01b1b"/><rect x="1095" y="558" width="1" height="42" fill="#f05a5a"/><rect x="1100" y="540" width="1" height="37" fill="#666"/><rect x="1099" y="570" width="3" height="4" fill="#c01b1b"/><rect x="1100" y="571" width="1" height="2" fill="#f05a5a"/><rect x="1104" y="521" width="1" height="57" fill="#666"/><rect x="1103" y="521" width="3" height="43" fill="#258020"/><rect x="1104" y="522" width="1" height="41" fill="#72c63a"/><rect x="1109" y="525" width="1" height="58" fill="#666"/><rect x="1108" y="537" width="3" height="41" fill="#258020"/><rect x="1109" y="538" width="1" height="39" fill="#72c63a"/><rect x="1113" y="485" width="1" height="42" fill="#666"/><rect x="1112" y="486" width="3" height="35" fill="#258020"/><rect x="1113" y="487" width="1" height="33" fill="#72c63a"/><rect x="1117" y="483" width="1" height="32" fill="#666"/><rect x="1116" y="493" width="3" height="5" fill="#c01b1b"/><rect x="1117" y="494" width="1" height="3" fill="#f05a5a"/><rect x="1122" y="455" width="1" height="26" fill="#666"/><rect x="1121" y="458" width="3" height="21" fill="#258020"/><rect x="1122" y="459" width="1" height="19" fill="#72c63a"/><rect x="1126" y="451" width="1" height="39" fill="#666"/><rect x="1125" y="456" width="3" height="34" fill="#c01b1b"/><rect x="1126" y="457" width="1" height="32" fill="#f05a5a"/><rect x="1131" y="512" width="1" height="35" fill="#666"/><rect x="1130" y="512" width="3" height="11" fill="#258020"/><rect x="1131" y="513" width="1" height="9" fill="#72c63a"/><rect x="1135" y="462" width="1" height="39" fill="#666"/><rect x="1134" y="494" width="3" height="3" fill="#258020"/><rect x="1135" y="495" width="1" height="1" fill="#72c63a"/><rect x="1140" y="452" width="1" height="34" fill="#666"/><rect x="1139" y="459" width="3" height="2" fill="#c01b1b"/><rect x="1144" y="472" width="1" height="34" fill="#666"/><rect x="1143" y="483" width="3" height="23" fill="#c01b1b"/><rect x="1144" y="484" width="1" height="21" fill="#f05a5a"/><rect x="1148" y="481" width="1" height="33" fill="#666"/><rect x="1147" y="487" width="3" height="3" fill="#c01b1b"/><rect x="1148" y="488" width="1" height="1" fill="#f05a5a"/><rect x="1153" y="446" width="1" height="41" fill="#666"/><rect x="1152" y="450" width="3" height="37" fill="#258020"/><rect x="1153" y="451" width="1" height="35" fill="#72c63a"/><rect x="1157" y="409" width="1" height="38" fill="#666"/><rect x="1156" y="409" width="3" height="32" fill="#258020"/><rect x="1157" y="410" width="1" height="30" fill="#72c63a"/><rect x="1162" y="387" width="1" height="14" fill="#666"/><rect x="1161" y="389" width="3" height="2" fill="#258020"/><rect x="1166" y="394" width="1" height="33" fill="#666"/><rect x="1165" y="400" width="3" height="23" fill="#c01b1b"/><rect x="1166" y="401" width="1" height="21" fill="#f05a5a"/><rect x="1171" y="404" width="1" height="27" fill="#666"/><rect x="1170" y="406" width="3" height="25" fill="#c01b1b"/><rect x="1171" y="407" width="1" height="23" fill="#f05a5a"/><rect x="1175" y="404" width="1" height="18" fill="#666"/><rect x="1174" y="405" width="3" height="17" fill="#258020"/><rect x="1175" y="406" width="1" height="15" fill="#72c63a"/><rect x="1179" y="386" width="1" height="26" fill="#666"/><rect x="1178" y="387" width="3" height="23" fill="#c01b1b"/><rect x="1179" y="388" width="1" height="21" fill="#f05a5a"/><rect x="1184" y="366" width="1" height="28" fill="#666"/><rect x="1183" y="375" width="3" height="15" fill="#258020"/><rect x="1184" y="376" width="1" height="13" fill="#72c63a"/><rect x="1188" y="386" width="1" height="24" fill="#666"/><rect x="1187" y="390" width="3" height="3" fill="#c01b1b"/><rect x="1188" y="391" width="1" height="1" fill="#f05a5a"/><rect x="1193" y="384" width="1" height="40" fill="#666"/><rect x="1192" y="385" width="3" height="28" fill="#c01b1b"/><rect x="1193" y="386" width="1" height="26" fill="#f05a5a"/><rect x="1197" y="416" width="1" height="42" fill="#666"/><rect x="1196" y="426" width="3" height="31" fill="#c01b1b"/><rect x="1197" y="427" width="1" height="29" fill="#f05a5a"/><rect x="1202" y="470" width="1" height="66" fill="#666"/><rect x="1201" y="472" width="3" height="62" fill="#c01b1b"/><rect x="1202" y="473" width="1" height="60" fill="#f05a5a"/></g><line x1="713.7" y1="85.1" x2="1245" y2="401" stroke="#ff3b12" stroke-width="4.2" shape-rendering="geometricPrecision"/><rect x="1" y="297" width="1244" height="49" fill="rgba(233,88,62,0.19)"/><g id="axis"><rect x="1245" y="0" width="1" height="874" fill="#dadada"/><rect x="1246" y="31" width="4" height="1" fill="#8a8a8a"/><text x="1256.6" y="34.9" font-family="Liberation Sans, Arial, sans-serif" font-size="12" fill="#939393" textLength="54.2" lengthAdjust="spacingAndGlyphs">16.600,00</text><rect x="1246" y="66" width="4" height="1" fill="#8a8a8a"/><text x="1256.6" y="69.9" font-family="Liberation Sans, Arial, sans-serif" font-size="12" fill="#939393" textLength="54.2" lengthAdjust="spacingAndGlyphs">16.400,00</text><rect x="1246" y="102" width="4" height="1" fill="#8a8a8a"/><text x="1256.6" y="105.9" font-family="Liberation Sans, Arial, sans-serif" font-size="12" fill="#939393" textLength="54.2" lengthAdjust="spacingAndGlyphs">16.200,00</text><rect x="1246" y="137" width="4" height="1" fill="#8a8a8a"/><text x="1256.6" y="140.9" font-family="Liberation Sans, Arial, sans-serif" font-size="12" fill="#939393" textLength="54.2" lengthAdjust="spacingAndGlyphs">16.000,00</text><rect x="1246" y="172" width="4" height="1" fill="#8a8a8a"/><text x="1256.6" y="175.9" font-family="Liberation Sans, Arial, sans-serif" font-size="12" fill="#939393" textLength="54.2" lengthAdjust="spacingAndGlyphs">15.800,00</text><rect x="1246" y="208" width="4" height="1" fill="#8a8a8a"/><text x="1256.6" y="211.9" font-family="Liberation Sans, Arial, sans-serif" font-size="12" fill="#939393" textLength="54.2" lengthAdjust="spacingAndGlyphs">15.600,00</text><rect x="1246" y="243" width="4" height="1" fill="#8a8a8a"/><text x="1256.6" y="246.9" font-family="Liberation Sans, Arial, sans-serif" font-size="12" fill="#939393" textLength="54.2" lengthAdjust="spacingAndGlyphs">15.400,00</text><rect x="1246" y="279" width="4" height="1" fill="#8a8a8a"/><text x="1256.6" y="282.9" font-family="Liberation Sans, Arial, sans-serif" font-size="12" fill="#939393" textLength="54.2" lengthAdjust="spacingAndGlyphs">15.200,00</text><rect x="1246" y="314" width="4" height="1" fill="#8a8a8a"/><text x="1256.6" y="317.9" font-family="Liberation Sans, Arial, sans-serif" font-size="12" fill="#939393" textLength="54.2" lengthAdjust="spacingAndGlyphs">15.000,00</text><rect x="1246" y="349" width="4" height="1" fill="#8a8a8a"/><text x="1256.6" y="352.9" font-family="Liberation Sans, Arial, sans-serif" font-size="12" fill="#939393" textLength="54.2" lengthAdjust="spacingAndGlyphs">14.800,00</text><rect x="1246" y="385" width="4" height="1" fill="#8a8a8a"/><text x="1256.6" y="388.9" font-family="Liberation Sans, Arial, sans-serif" font-size="12" fill="#939393" textLength="54.2" lengthAdjust="spacingAndGlyphs">14.600,00</text><rect x="1246" y="420" width="4" height="1" fill="#8a8a8a"/><text x="1256.6" y="423.9" font-family="Liberation Sans, Arial, sans-serif" font-size="12" fill="#939393" textLength="54.2" lengthAdjust="spacingAndGlyphs">14.400,00</text><rect x="1246" y="456" width="4" height="1" fill="#8a8a8a"/><text x="1256.6" y="459.9" font-family="Liberation Sans, Arial, sans-serif" font-size="12" fill="#939393" textLength="54.2" lengthAdjust="spacingAndGlyphs">14.200,00</text><rect x="1246" y="491" width="4" height="1" fill="#8a8a8a"/><text x="1256.6" y="494.9" font-family="Liberation Sans, Arial, sans-serif" font-size="12" fill="#939393" textLength="54.2" lengthAdjust="spacingAndGlyphs">14.000,00</text><rect x="1246" y="526" width="4" height="1" fill="#8a8a8a"/><text x="1256.6" y="529.9" font-family="Liberation Sans, Arial, sans-serif" font-size="12" fill="#939393" textLength="54.2" lengthAdjust="spacingAndGlyphs">13.800,00</text><rect x="1246" y="562" width="4" height="1" fill="#8a8a8a"/><text x="1256.6" y="565.9" font-family="Liberation Sans, Arial, sans-serif" font-size="12" fill="#939393" textLength="54.2" lengthAdjust="spacingAndGlyphs">13.600,00</text><rect x="1246" y="597" width="4" height="1" fill="#8a8a8a"/><text x="1256.6" y="600.9" font-family="Liberation Sans, Arial, sans-serif" font-size="12" fill="#939393" textLength="54.2" lengthAdjust="spacingAndGlyphs">13.400,00</text><rect x="1246" y="633" width="4" height="1" fill="#8a8a8a"/><text x="1256.6" y="636.9" font-family="Liberation Sans, Arial, sans-serif" font-size="12" fill="#939393" textLength="54.2" lengthAdjust="spacingAndGlyphs">13.200,00</text><rect x="1246" y="668" width="4" height="1" fill="#8a8a8a"/><text x="1256.6" y="671.9" font-family="Liberation Sans, Arial, sans-serif" font-size="12" fill="#939393" textLength="54.2" lengthAdjust="spacingAndGlyphs">13.000,00</text><rect x="1246" y="703" width="4" height="1" fill="#8a8a8a"/><text x="1256.6" y="706.9" font-family="Liberation Sans, Arial, sans-serif" font-size="12" fill="#939393" textLength="54.2" lengthAdjust="spacingAndGlyphs">12.800,00</text><rect x="1246" y="739" width="4" height="1" fill="#8a8a8a"/><text x="1256.6" y="742.9" font-family="Liberation Sans, Arial, sans-serif" font-size="12" fill="#939393" textLength="54.2" lengthAdjust="spacingAndGlyphs">12.600,00</text><rect x="1246" y="774" width="4" height="1" fill="#8a8a8a"/><text x="1256.6" y="777.9" font-family="Liberation Sans, Arial, sans-serif" font-size="12" fill="#939393" textLength="54.2" lengthAdjust="spacingAndGlyphs">12.400,00</text><rect x="1246" y="810" width="4" height="1" fill="#8a8a8a"/><text x="1256.6" y="813.9" font-family="Liberation Sans, Arial, sans-serif" font-size="12" fill="#939393" textLength="54.2" lengthAdjust="spacingAndGlyphs">12.200,00</text><rect x="1246" y="845" width="4" height="1" fill="#8a8a8a"/><text x="1256.6" y="848.9" font-family="Liberation Sans, Arial, sans-serif" font-size="12" fill="#939393" textLength="54.2" lengthAdjust="spacingAndGlyphs">12.000,00</text><text x="31.5" y="868" text-anchor="middle" font-family="Liberation Sans, Arial, sans-serif" font-size="12" fill="#444">Jun</text><rect x="31" y="871" width="1" height="3" fill="#444"/><text x="129.5" y="868" text-anchor="middle" font-family="Liberation Sans, Arial, sans-serif" font-size="12" fill="#444">Jul</text><rect x="129" y="871" width="1" height="3" fill="#444"/><text x="226.5" y="868" text-anchor="middle" font-family="Liberation Sans, Arial, sans-serif" font-size="12" fill="#444">Aug</text><rect x="226" y="871" width="1" height="3" fill="#444"/><text x="324.5" y="868" text-anchor="middle" font-family="Liberation Sans, Arial, sans-serif" font-size="12" fill="#444">Sep</text><rect x="324" y="871" width="1" height="3" fill="#444"/><text x="421.5" y="868" text-anchor="middle" font-family="Liberation Sans, Arial, sans-serif" font-size="12" fill="#444">Okt</text><rect x="421" y="871" width="1" height="3" fill="#444"/><text x="514.5" y="868" text-anchor="middle" font-family="Liberation Sans, Arial, sans-serif" font-size="12" fill="#444">Nov</text><rect x="514" y="871" width="1" height="3" fill="#444"/><text x="612.5" y="868" text-anchor="middle" font-family="Liberation Sans, Arial, sans-serif" font-size="12" fill="#444">Dez</text><rect x="612" y="871" width="1" height="3" fill="#444"/><text x="706.2" y="868" text-anchor="middle" font-family="Liberation Sans, Arial, sans-serif" font-size="12" fill="#444">Jan '22</text><rect x="705" y="871" width="1" height="3" fill="#444"/><text x="798.5" y="868" text-anchor="middle" font-family="Liberation Sans, Arial, sans-serif" font-size="12" fill="#444">Feb</text><rect x="798" y="871" width="1" height="3" fill="#444"/><text x="887.5" y="868" text-anchor="middle" font-family="Liberation Sans, Arial, sans-serif" font-size="12" fill="#444">Mär</text><rect x="887" y="871" width="1" height="3" fill="#444"/><text x="989.5" y="868" text-anchor="middle" font-family="Liberation Sans, Arial, sans-serif" font-size="12" fill="#444">Apr</text><rect x="989" y="871" width="1" height="3" fill="#444"/><text x="1073.5" y="868" text-anchor="middle" font-family="Liberation Sans, Arial, sans-serif" font-size="12" fill="#444">Mai</text><rect x="1073" y="871" width="1" height="3" fill="#444"/><text x="1171.5" y="868" text-anchor="middle" font-family="Liberation Sans, Arial, sans-serif" font-size="12" fill="#444">Jun</text><rect x="1171" y="871" width="1" height="3" fill="#444"/></g><path d="M1245.2 533.4 L1253 524.1 H1316 V542.8 H1253 Z" fill="#f05a5a" shape-rendering="geometricPrecision"/>
<text x="1256.7" y="538" font-family="Liberation Sans, Arial, sans-serif" font-size="12" fill="#000">13.761,83</text><rect x="5" y="4.8" width="387" height="15.7" fill="rgba(255,255,255,0.8)"/>
<rect x="5" y="20.5" width="220" height="16" fill="rgba(255,255,255,0.8)"/>
<g shape-rendering="geometricPrecision" stroke="#e8524f" fill="none" stroke-width="1">
<path d="M7.3 13.7 V17.8 M11.4 7.2 V11.7 M11.4 16.2 V17.8 M15.5 9.2 V13.3"/>
<rect x="6.2" y="9.3" width="2.3" height="4.4" fill="#fff"/><rect x="10.3" y="11.7" width="2.3" height="4.5" fill="#fff"/><rect x="14.4" y="13.3" width="2.3" height="4.4" fill="#fff"/>
</g>
<text x="23.7" y="16.8" font-family="Liberation Sans, Arial, sans-serif" font-size="11" fill="#e8524f" xml:space="preserve" textLength="366.3" lengthAdjust="spacingAndGlyphs">DAX (XETRA, Last)  O: 14.110,03  H: 14.121,07  L: 13.749,77  C: 13.761,83</text>
<g shape-rendering="geometricPrecision" stroke="#333" fill="none" stroke-width="1.1">
<circle cx="12.4" cy="28.5" r="5.2"/><path d="M12.4 25.4 V28.7 L14.6 30.7"/>
</g>
<text x="23.2" y="32.6" font-family="Liberation Sans, Arial, sans-serif" font-size="11" fill="#444" xml:space="preserve" textLength="195.5" lengthAdjust="spacingAndGlyphs">20.05.2021 - 10.06.2022   (1 Jahr, 1 Tag)</text><g font-family="Liberation Sans, Arial, sans-serif" font-weight="bold" font-size="57" fill="#206c7c" stroke="#206c7c" stroke-width="2.4" stroke-linejoin="round" shape-rendering="geometricPrecision" text-anchor="middle" transform="translate(508,0) scale(1.2,1)">
<text x="0" y="412.9">Neue</text>
<text x="0" y="496.6">Abwärtstrendlinie</text>
</g></svg>
</body></html>
